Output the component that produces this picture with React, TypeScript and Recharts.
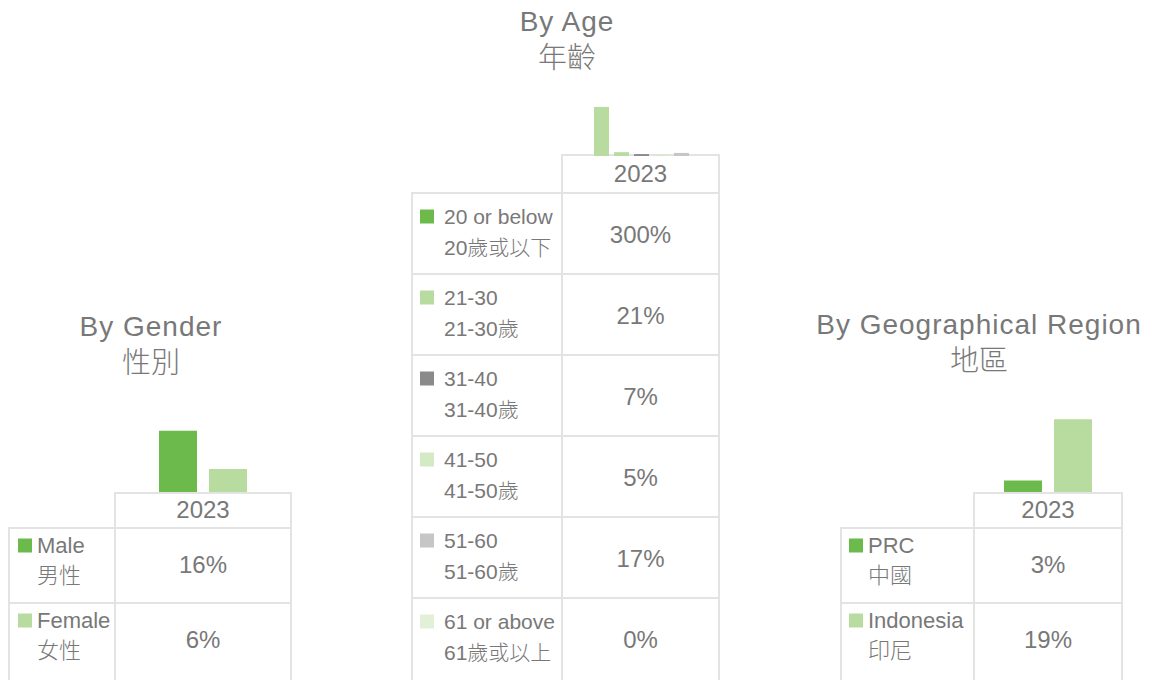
import { BarChart, Bar, XAxis, YAxis } from "recharts";

const GREEN = "#6cb94c";
const LIGHT_GREEN = "#b8dba0";
const DARK_GRAY = "#8a8a8a";
const PALE_GREEN = "#d3eac4";
const LIGHT_GRAY = "#c6c6c6";
const PALEST_GREEN = "#e2f0d8";

const TEXT = "#787878";
const LINE = "#e3e3e3";
const FONT = '"Liberation Sans", "Noto Sans CJK TC", sans-serif';

const year = "2023";

// By Gender
const genderLabels = ["Male", "Female"];
const genderLabelsZh = ["男性", "女性"];
const genderValues = [16, 6];
const genderColors = [GREEN, LIGHT_GREEN];

// By Age
const ageLabels = ["20 or below", "21-30", "31-40", "41-50", "51-60", "61 or above"];
const ageLabelsZh = ["20歲或以下", "21-30歲", "31-40歲", "41-50歲", "51-60歲", "61歲或以上"];
const ageValues = [300, 21, 7, 5, 17, 0];
const ageColors = [GREEN, LIGHT_GREEN, DARK_GRAY, PALE_GREEN, LIGHT_GRAY, PALEST_GREEN];
// bars as drawn above the age table
const ageBarValues = [12.8, 1.0, 0.5, 0.3, 0.8];
const ageBarColors = [LIGHT_GREEN, LIGHT_GREEN, DARK_GRAY, PALE_GREEN, LIGHT_GRAY];

// By Geographical Region
const regionLabels = ["PRC", "Indonesia"];
const regionLabelsZh = ["中國", "印尼"];
const regionValues = [3, 19];
const regionColors = [GREEN, LIGHT_GREEN];

const Y_MAX = 28.7;

function MiniBars({ left, bottom, width, values, colors, barSize, barGap }: any) {
  const height = 110;
  const row: any = { name: year };
  values.forEach((v: number, i: number) => (row["s" + i] = v));
  return (
    <div style={{ position: "absolute", left, top: bottom - height, width, height }}>
      <BarChart width={width} height={height} data={[row]} margin={{ top: 0, right: 0, bottom: 0, left: 0 }} barGap={barGap}>
        <XAxis dataKey="name" hide />
        <YAxis hide domain={[0, Y_MAX]} />
        {values.map((_: number, i: number) => (
          <Bar key={i} dataKey={"s" + i} fill={colors[i]} barSize={barSize} isAnimationActive={false} />
        ))}
      </BarChart>
    </div>
  );
}

function Table({ leftX, colX, rightX, headerTop, firstRow, rowH, labels, labelsZh, values, colors, keyX, textX, fsLabel, l1, l2, dv }: any) {
  const bottom = 700;
  const colC = (colX + rightX) / 2 + 1;
  const hMid = (headerTop + firstRow) / 2;
  return (
    <g fontFamily={FONT} fill={TEXT} fontWeight={300}>
      <line x1={colX} x2={rightX} y1={headerTop + 1} y2={headerTop + 1} stroke={LINE} strokeWidth={2} />
      <line x1={colX + 1} x2={colX + 1} y1={headerTop} y2={bottom} stroke={LINE} strokeWidth={2} />
      <line x1={rightX + 1} x2={rightX + 1} y1={headerTop} y2={bottom} stroke={LINE} strokeWidth={2} />
      <line x1={leftX + 1} x2={leftX + 1} y1={firstRow} y2={bottom} stroke={LINE} strokeWidth={2} />
      <text x={colC} y={hMid + 8.6} fontSize={24} textAnchor="middle">{year}</text>
      {labels.map((lab: string, i: number) => {
        const top = firstRow + i * rowH;
        const mid = top + rowH / 2;
        return (
          <g key={lab}>
            <line x1={leftX} x2={rightX + 2} y1={top + 1} y2={top + 1} stroke={LINE} strokeWidth={2} />
            <rect x={keyX} y={mid + l1 - 7} width={14} height={14} fill={colors[i]} />
            <text x={textX} y={mid + l1 + fsLabel * 0.36} fontSize={fsLabel}>{lab}</text>
            <text x={textX} y={mid + l2 + fsLabel * 0.36} fontSize={fsLabel}>{labelsZh[i]}</text>
            <text x={colC} y={mid + dv + 8.6} fontSize={24} textAnchor="middle">{values[i] + "%"}</text>
          </g>
        );
      })}
    </g>
  );
}

function Title({ x, y, en, zh }: any) {
  return (
    <g fontFamily={FONT} fill={TEXT} fontWeight={300} textAnchor="middle">
      <text x={x} y={y} fontSize={28} letterSpacing={1}>{en}</text>
      <text x={x} y={y + 37} fontSize={29}>{zh}</text>
    </g>
  );
}

export default function App() {
  return (
    <div style={{ position: "absolute", left: 0, top: 0, width: 1149, height: 680, overflow: "hidden", background: "#fff" }}>
      <svg width={1149} height={680} style={{ position: "absolute", left: 0, top: 0 }}>
        <Title x={151} y={336} en="By Gender" zh="性別" />
        <Title x={567} y={31} en="By Age" zh="年齡" />
        <Title x={979} y={334} en="By Geographical Region" zh="地區" />
        <Table leftX={8} colX={114} rightX={290} headerTop={492} firstRow={527} rowH={75}
          labels={genderLabels} labelsZh={genderLabelsZh} values={genderValues} colors={genderColors}
          keyX={18} textX={37} fsLabel={22} l1={-19} l2={11} dv={0} />
        <Table leftX={411} colX={561} rightX={718} headerTop={154} firstRow={192} rowH={81}
          labels={ageLabels} labelsZh={ageLabelsZh} values={ageValues} colors={ageColors}
          keyX={420} textX={444} fsLabel={21} l1={-16} l2={15} dv={2} />
        <Table leftX={840} colX={973} rightX={1121} headerTop={492} firstRow={527} rowH={75}
          labels={regionLabels} labelsZh={regionLabelsZh} values={regionValues} colors={regionColors}
          keyX={849} textX={868} fsLabel={22} l1={-19} l2={11} dv={0} />
      </svg>
      <MiniBars left={115} bottom={492} width={176} values={genderValues} colors={genderColors} barSize={38} barGap={12} />
      <MiniBars left={563} bottom={156} width={157} values={ageBarValues} colors={ageBarColors} barSize={15} barGap={5} />
      <MiniBars left={974} bottom={492} width={148} values={regionValues} colors={regionColors} barSize={38} barGap={12} />
    </div>
  );
}
